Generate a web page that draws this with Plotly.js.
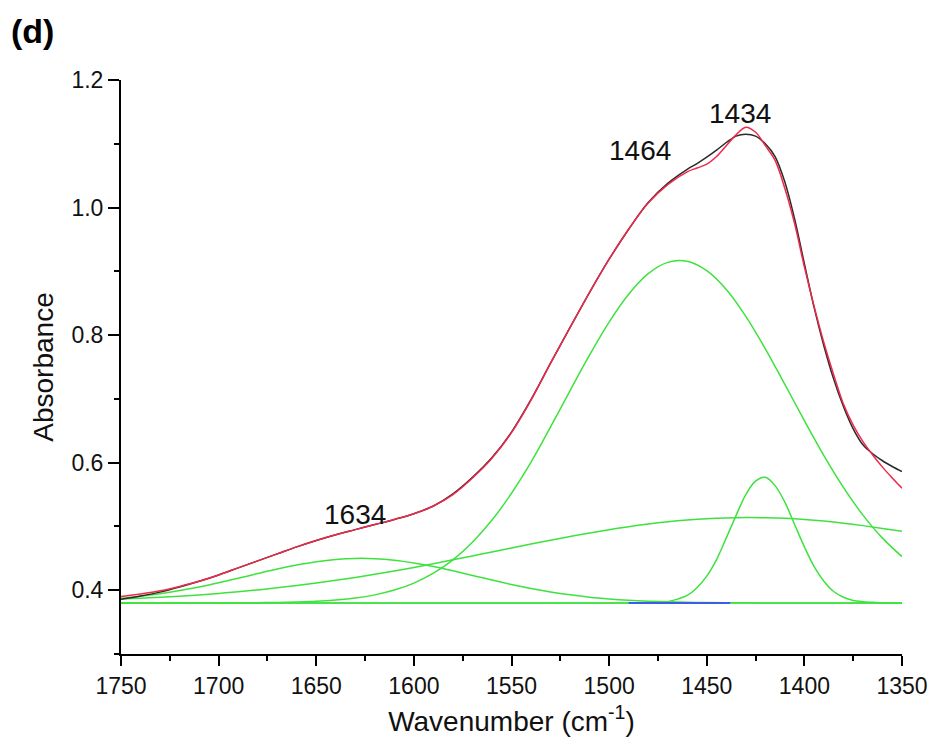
<!DOCTYPE html>
<html>
<head>
<meta charset="utf-8">
<script src="https://cdn.plot.ly/plotly-3.0.1.min.js"></script>
<style>html,body{margin:0;padding:0;background:#fff;}#chart{width:932px;height:751px;}</style>
</head>
<body>
<div id="chart"></div>
<script>
// Measured spectrum (black) and cumulative fit (red)
const wnData = [1750,1740,1730,1720,1710,1700,1690,1680,1670,1660,1650,1640,1630,1620,1610,1600,1590,1580,1570,1560,1550,1540,1530,1520,1510,1500,1490,1480,1470,1460,1455,1450,1445,1440,1435,1430,1425,1420,1415,1410,1405,1400,1395,1390,1385,1380,1375,1370,1365,1360,1355,1350];
const absData = [0.386,0.391,0.397,0.405,0.414,0.424,0.435,0.446,0.457,0.468,0.478,0.487,0.495,0.503,0.511,0.520,0.532,0.551,0.577,0.608,0.648,0.699,0.756,0.812,0.867,0.919,0.966,1.008,1.038,1.060,1.069,1.079,1.090,1.102,1.112,1.115,1.112,1.100,1.080,1.040,0.982,0.912,0.843,0.783,0.731,0.688,0.653,0.628,0.614,0.603,0.594,0.586];
const absFit = [0.390,0.394,0.399,0.406,0.414,0.424,0.435,0.446,0.457,0.468,0.478,0.487,0.495,0.503,0.511,0.520,0.532,0.550,0.576,0.607,0.647,0.698,0.756,0.812,0.867,0.919,0.966,1.007,1.036,1.056,1.062,1.068,1.080,1.097,1.114,1.126,1.118,1.097,1.074,1.030,0.975,0.907,0.845,0.788,0.738,0.692,0.659,0.633,0.612,0.593,0.576,0.560];

// Fitted component bands (green)
const wnComp = [1750,1740,1730,1720,1710,1700,1690,1680,1670,1660,1650,1640,1630,1620,1610,1600,1590,1580,1570,1560,1550,1540,1530,1520,1510,1500,1490,1480,1470,1460,1450,1440,1430,1420,1410,1400,1390,1380,1370,1360,1350];
const band1634 = [0.3874,0.3905,0.3945,0.3994,0.4051,0.4117,0.4188,0.4261,0.4332,0.4395,0.4447,0.4483,0.4499,0.4495,0.4471,0.4428,0.4371,0.4304,0.4232,0.4159,0.4090,0.4027,0.3973,0.3928,0.3891,0.3864,0.3843,0.3828,0.3818,0.3811,0.3807,0.3804,0.3802,0.3801,0.3800,0.3800,0.3800,0.3800,0.3800,0.3800,0.3800];
const band1464 = [0.3800,0.3800,0.3800,0.3800,0.3800,0.3801,0.3801,0.3804,0.3808,0.3815,0.3826,0.3846,0.3877,0.3927,0.4002,0.4112,0.4267,0.4477,0.4753,0.5100,0.5520,0.6007,0.6560,0.7130,0.7690,0.8205,0.8640,0.8963,0.9140,0.9157,0.9010,0.8715,0.8295,0.7786,0.7228,0.6659,0.6112,0.5613,0.5178,0.4817,0.4527];
const bandBroad = [0.3862,0.3875,0.3890,0.3907,0.3927,0.3950,0.3976,0.4005,0.4037,0.4073,0.4112,0.4155,0.4201,0.4250,0.4303,0.4358,0.4416,0.4476,0.4538,0.4600,0.4663,0.4725,0.4785,0.4843,0.4898,0.4949,0.4996,0.5037,0.5072,0.5100,0.5121,0.5134,0.5140,0.5137,0.5127,0.5109,0.5084,0.5052,0.5013,0.4969,0.4925];

const wnNarrow = [1750,1650,1550,1500,1490,1480,1475,1470,1465,1460,1455,1450,1445,1440,1435,1430,1425,1420,1415,1410,1405,1400,1395,1390,1385,1380,1375,1370,1365,1360,1350];
const band1434 = [0.380,0.380,0.380,0.380,0.380,0.380,0.381,0.382,0.386,0.392,0.404,0.422,0.448,0.482,0.517,0.550,0.571,0.577,0.564,0.538,0.503,0.468,0.437,0.414,0.398,0.389,0.384,0.382,0.381,0.380,0.380];

const wnBase = [1750,1350];
const baseVal = [0.380,0.380];
const wnBlue = [1490,1438];
const blueVal = [0.380,0.380];

const peakLabels = ['1634','1464','1434'];
const peakLabelX = [1630,1484,1433];
const peakLabelY = [0.518,1.090,1.148];

const xTicks = [1750,1700,1650,1600,1550,1500,1450,1400,1350];
const yTicks = [0.4,0.6,0.8,1.0,1.2];

const GREEN = '#3ee23e';
const sp = {shape:'spline', smoothing:1};

const traces = [
  {x:wnBase, y:baseVal, mode:'lines', line:{color:GREEN, width:1.6}},
  {x:wnComp, y:band1634, mode:'lines', line:Object.assign({color:GREEN, width:1.5}, sp)},
  {x:wnComp, y:band1464, mode:'lines', line:Object.assign({color:GREEN, width:1.5}, sp)},
  {x:wnComp, y:bandBroad, mode:'lines', line:Object.assign({color:GREEN, width:1.5}, sp)},
  {x:wnNarrow, y:band1434, mode:'lines', line:Object.assign({color:GREEN, width:1.5}, sp)},
  {x:wnBlue, y:blueVal, mode:'lines', line:{color:'#3a5ee6', width:1.8}},
  {x:wnData, y:absData, mode:'lines', line:Object.assign({color:'#2a2a2a', width:1.5}, sp)},
  {x:wnData, y:absFit, mode:'lines', line:Object.assign({color:'#f0284a', width:1.5}, sp)}
];

const FONT = 'Arial, "Liberation Sans", sans-serif';
const annotations = peakLabels.map((t,i)=>({
  x:peakLabelX[i], y:peakLabelY[i], xref:'x', yref:'y', text:t, showarrow:false,
  xanchor:'center', yanchor:'middle', font:{family:FONT, size:28, color:'#111'}
}));
annotations.push({
  x:-0.143, y:1.122, xref:'paper', yref:'paper', text:'<b>(d)</b>', showarrow:false,
  xanchor:'left', yanchor:'top', font:{family:FONT, size:34, color:'#000'}
});

const layout = {
  width:932, height:751,
  margin:{l:121, r:30, t:80, b:97, pad:0},
  paper_bgcolor:'#fff', plot_bgcolor:'#fff',
  showlegend:false,
  font:{family:FONT, color:'#111'},
  xaxis:{
    range:[1750,1350], tickvals:xTicks, ticktext:xTicks.map(String),
    showline:true, linecolor:'#000', linewidth:2, mirror:false,
    ticks:'outside', ticklen:10, tickwidth:2, tickcolor:'#000',
    showgrid:false, zeroline:false,
    tickfont:{family:FONT, size:23, color:'#111'},
    minor:{dtick:25, ticks:'outside', ticklen:5, tickwidth:2, tickcolor:'#000', showgrid:false},
    title:{text:'Wavenumber (cm<sup>-1</sup>)', font:{family:FONT, size:28, color:'#111'}, standoff:14}
  },
  yaxis:{
    range:[0.3,1.2], tickvals:yTicks, ticktext:yTicks.map(v=>v.toFixed(1)),
    showline:true, linecolor:'#000', linewidth:2, mirror:false,
    ticks:'outside', ticklen:11, tickwidth:2, tickcolor:'#000',
    showgrid:false, zeroline:false,
    tickfont:{family:FONT, size:23, color:'#111'},
    minor:{tickvals:[0.3,0.5,0.7,0.9,1.1], ticks:'outside', ticklen:5, tickwidth:2, tickcolor:'#000', showgrid:false},
    title:{text:'Absorbance', font:{family:FONT, size:28, color:'#111'}, standoff:10}
  },
  annotations:annotations
};

Plotly.newPlot('chart', traces, layout, {displayModeBar:false, staticPlot:true});
</script>
</body>
</html>
